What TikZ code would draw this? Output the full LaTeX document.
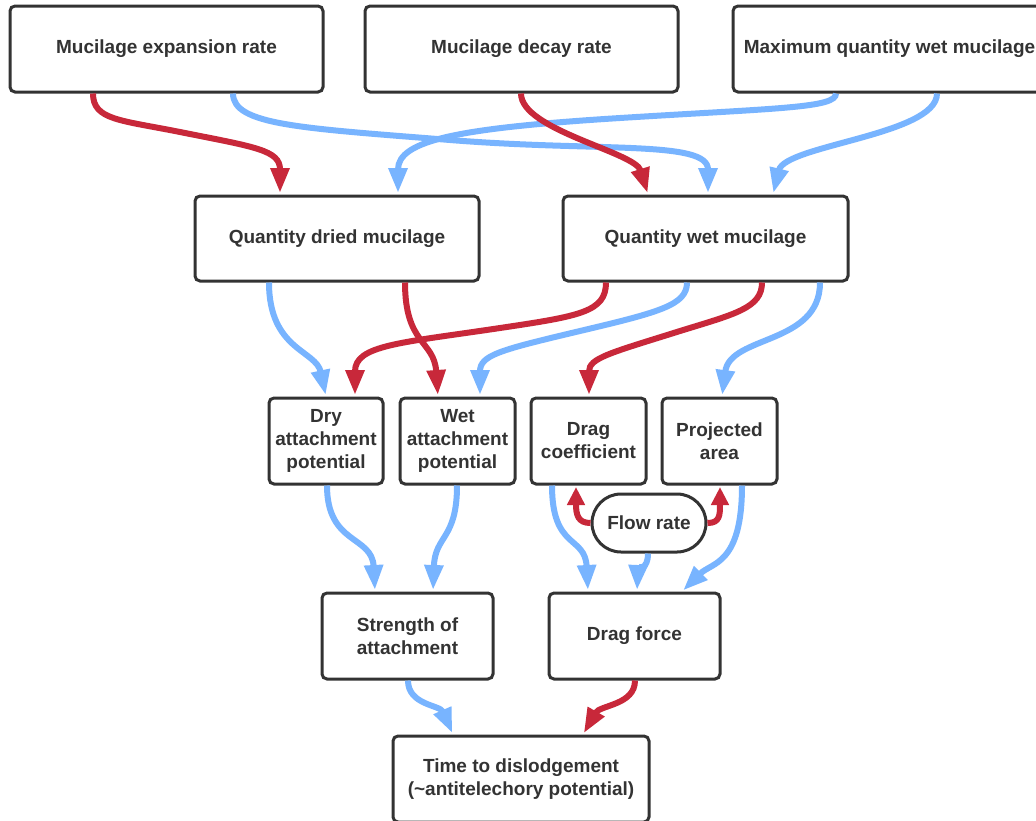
\documentclass[tikz,border=0pt]{standalone}
\usepackage{fontspec}
\setmainfont{Liberation Sans}
\usetikzlibrary{arrows.meta}
\definecolor{myred}{HTML}{C8283A}
\definecolor{myblue}{HTML}{78B4FF}
\definecolor{bordergray}{HTML}{333333}
\definecolor{textgray}{HTML}{333333}
\begin{document}
\begin{tikzpicture}[x=1pt,y=-1pt,
  box/.style={draw=bordergray, line width=3pt, rounded corners=5pt, fill=white,
    inner sep=0pt, font=\fontsize{19}{23}\selectfont\bfseries, text=textgray, align=center},
  pill/.style={box, rounded corners=29pt},
  conn/.style={line width=6pt, -{Triangle[length=25pt,width=18pt]}, shorten >=1.5pt},
  shorttip/.style={-{Triangle[length=18pt,width=17pt]}},
  redarr/.style={conn, draw=myred, color=myred},
  bluearr/.style={conn, draw=myblue, color=myblue}]
\clip (0,0) rectangle (1036,820);
\fill[white] (0,0) rectangle (1036,820);

% nodes
\node[box, minimum width=313pt, minimum height=86pt] (mer) at (166.5,49) {Mucilage expansion rate};
\node[box, minimum width=313pt, minimum height=86pt] (mdr) at (521.5,49) {Mucilage decay rate};
\node[box, minimum width=313pt, minimum height=86pt] (mqw) at (889.5,49) {Maximum quantity wet mucilage};
\node[box, minimum width=284pt, minimum height=85pt] (qdm) at (337,238.5) {Quantity dried mucilage};
\node[box, minimum width=285pt, minimum height=85pt] (qwm) at (705.5,238.5) {Quantity wet mucilage};
\node[box, minimum width=114pt, minimum height=86pt] (dap) at (326,441) {Dry\\attachment\\potential};
\node[box, minimum width=115pt, minimum height=86pt] (wap) at (457.5,441) {Wet\\attachment\\potential};
\node[box, minimum width=115pt, minimum height=86pt] (dc) at (588.5,441) {Drag\\coefficient};
\node[box, minimum width=115pt, minimum height=86pt] (pa) at (719.5,441) {Projected\\area};
\node[pill, minimum width=114pt, minimum height=58pt] (fr) at (649,523) {Flow rate};
\node[box, minimum width=171pt, minimum height=86pt] (soa) at (407.5,636) {Strength of\\attachment};
\node[box, minimum width=171pt, minimum height=86pt] (df) at (634.5,636) {Drag force};
\node[box, minimum width=256pt, minimum height=86pt] (ttd) at (521,779) {Time to dislodgement\\(\textasciitilde antitelechory potential)};

% blue connectors
\draw[bluearr] (233,0 |- mer.south) .. controls (233,125) and (300,128) .. (450,140)
  .. controls (600,152) and (708,140) .. (708,0 |- qwm.north);
\draw[bluearr] (836,0 |- mqw.south) .. controls (836,108) and (780,108) .. (620,118)
  .. controls (460,128) and (398,140) .. (398,0 |- qdm.north);
\draw[bluearr] (937,0 |- mqw.south) .. controls (937,135) and (785,145) .. (773,0 |- qwm.north);
\draw[bluearr] (269,0 |- qdm.south) .. controls (269,350) and (316,350) .. (326,0 |- dap.north);
\draw[bluearr] (687,0 |- qwm.south) .. controls (687,305) and (660,312) .. (580,331)
  .. controls (500,350) and (480,355) .. (480,0 |- wap.north);
\draw[bluearr] (820,0 |- qwm.south) .. controls (820,345) and (730,335) .. (722,0 |- pa.north);
\draw[bluearr] (327,0 |- dap.south) .. controls (327,545) and (372,535) .. (375,0 |- soa.north);
\draw[bluearr] (457,0 |- wap.south) .. controls (457,540) and (435,535) .. (433,0 |- soa.north);
\draw[bluearr] (552,0 |- dc.south) .. controls (552,550) and (585,535) .. (588,0 |- df.north);
\draw[bluearr] (648,0 |- fr.south) .. controls (648,570) and (638,568) .. (637,0 |- df.north);
\draw[bluearr] (742,0 |- pa.south) .. controls (742,565) and (712,562) .. (682,0 |- df.north);
\draw[bluearr] (408,0 |- soa.south) .. controls (408,705) and (440,705) .. (453,0 |- ttd.north);

% red connectors
\draw[redarr] (93,0 |- mer.south) .. controls (93,120) and (120,120) .. (180,132)
  .. controls (255,147) and (280,150) .. (280,0 |- qdm.north);
\draw[redarr] (521,0 |- mdr.south) .. controls (521,130) and (635,152) .. (648,0 |- qwm.north);
\draw[redarr] (405,0 |- qdm.south) .. controls (405,345) and (434,340) .. (438,0 |- wap.north);
\draw[redarr] (606,0 |- qwm.south) .. controls (606,312) and (580,316) .. (500,328)
  .. controls (400,343) and (355,345) .. (355,0 |- dap.north);
\draw[redarr] (762,0 |- qwm.south) .. controls (762,308) and (735,314) .. (680,331)
  .. controls (610,353) and (589,358) .. (589,0 |- dc.north);
\draw[redarr, shorttip] (fr.west) .. controls (578,523) and (576,515) .. (576,0 |- dc.south);
\draw[redarr, shorttip] (fr.east) .. controls (720,523) and (720,515) .. (720,0 |- pa.south);
\draw[redarr] (635,0 |- df.south) .. controls (635,705) and (600,705) .. (583,0 |- ttd.north);
\end{tikzpicture}
\end{document}
